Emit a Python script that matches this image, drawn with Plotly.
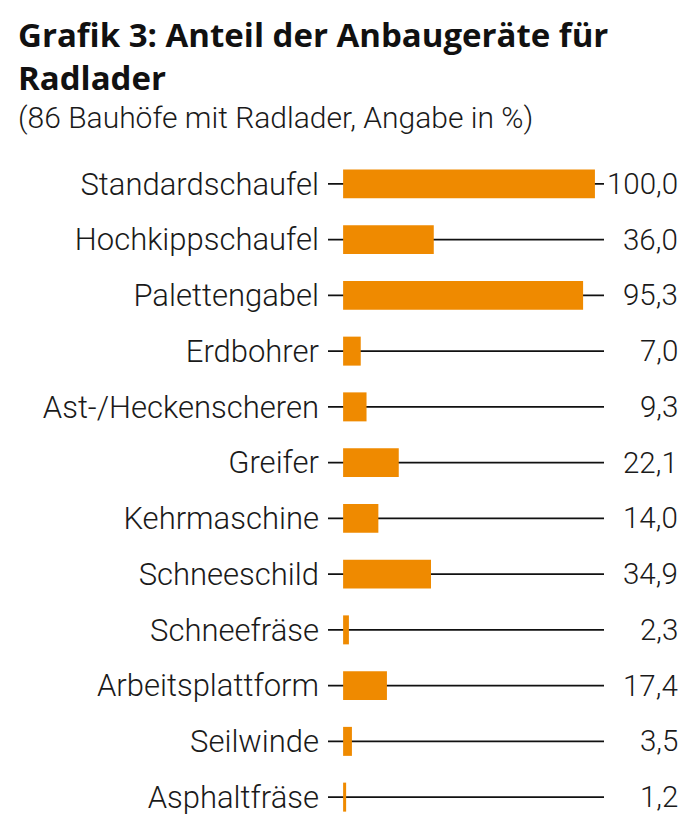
import plotly.graph_objects as go

# data (share in %)
categories = [
    "Standardschaufel",
    "Hochkippschaufel",
    "Palettengabel",
    "Erdbohrer",
    "Ast-/Heckenscheren",
    "Greifer",
    "Kehrmaschine",
    "Schneeschild",
    "Schneefräse",
    "Arbeitsplattform",
    "Seilwinde",
    "Asphaltfräse",
]
values = [100.0, 36.0, 95.3, 7.0, 9.3, 22.1, 14.0, 34.9, 2.3, 17.4, 3.5, 1.2]
value_labels = ["{:.1f}".format(v).replace(".", ",") for v in values]

title_text = "<b>Grafik 3: Anteil der Anbaugeräte für<br>Radlader</b>"
subtitle_text = "(86 Bauhöfe mit Radlader, Angabe in %)"

orange = "#EF8A00"
label_font = dict(family="Roboto", size=31, color="#1a1a1a", weight=300)
value_font = dict(family="Roboto", size=29.5, color="#1a1a1a", weight=300)

fig = go.Figure()

fig.add_trace(
    go.Bar(
        x=values,
        y=categories,
        orientation="h",
        width=0.52,
        marker=dict(color=orange, line=dict(width=0)),
        hoverinfo="x+y",
    )
)

# thin black line behind each bar, across the full axis width
shapes = []
for cat in categories:
    shapes.append(
        dict(
            type="line",
            xref="paper",
            yref="y",
            x0=0,
            x1=1,
            y0=cat,
            y1=cat,
            line=dict(color="#111111", width=1.6),
            layer="below",
        )
    )

# value labels on the right
notes = []
for cat, lab in zip(categories, value_labels):
    notes.append(
        dict(
            text=lab,
            x=1,
            xref="paper",
            y=cat,
            yref="y",
            xanchor="right",
            xshift=76,
            showarrow=False,
            font=value_font,
        )
    )

# title and subtitle (x measured from the plot's left edge)
notes.append(
    dict(
        text=title_text,
        x=0,
        xref="paper",
        xshift=-312,
        y=1,
        yref="paper",
        xanchor="left",
        yanchor="top",
        yshift=146,
        align="left",
        showarrow=False,
        font=dict(family="Open Sans", size=33, color="#111111"),
    )
)
notes.append(
    dict(
        text=subtitle_text,
        x=0,
        xref="paper",
        xshift=-312,
        y=1,
        yref="paper",
        xanchor="left",
        yanchor="top",
        yshift=58,
        align="left",
        showarrow=False,
        font=dict(family="Roboto", size=30, color="#1a1a1a", weight=300),
    )
)

fig.update_layout(
    width=692,
    height=825,
    margin=dict(l=320, r=96, t=148, b=8, autoexpand=False),
    plot_bgcolor="white",
    paper_bgcolor="white",
    showlegend=False,
    shapes=shapes,
    annotations=notes,
)

fig.update_xaxes(
    range=[-6, 103.6],
    showgrid=False,
    zeroline=False,
    showticklabels=False,
    fixedrange=True,
    automargin=False,
)
fig.update_yaxes(
    categoryorder="array",
    categoryarray=categories[::-1],
    range=[-0.5, len(categories) - 0.5],
    showgrid=False,
    zeroline=False,
    ticks="",
    ticklabelstandoff=8,
    tickfont=label_font,
    fixedrange=True,
    automargin=False,
)

fig.write_html("out.html")
